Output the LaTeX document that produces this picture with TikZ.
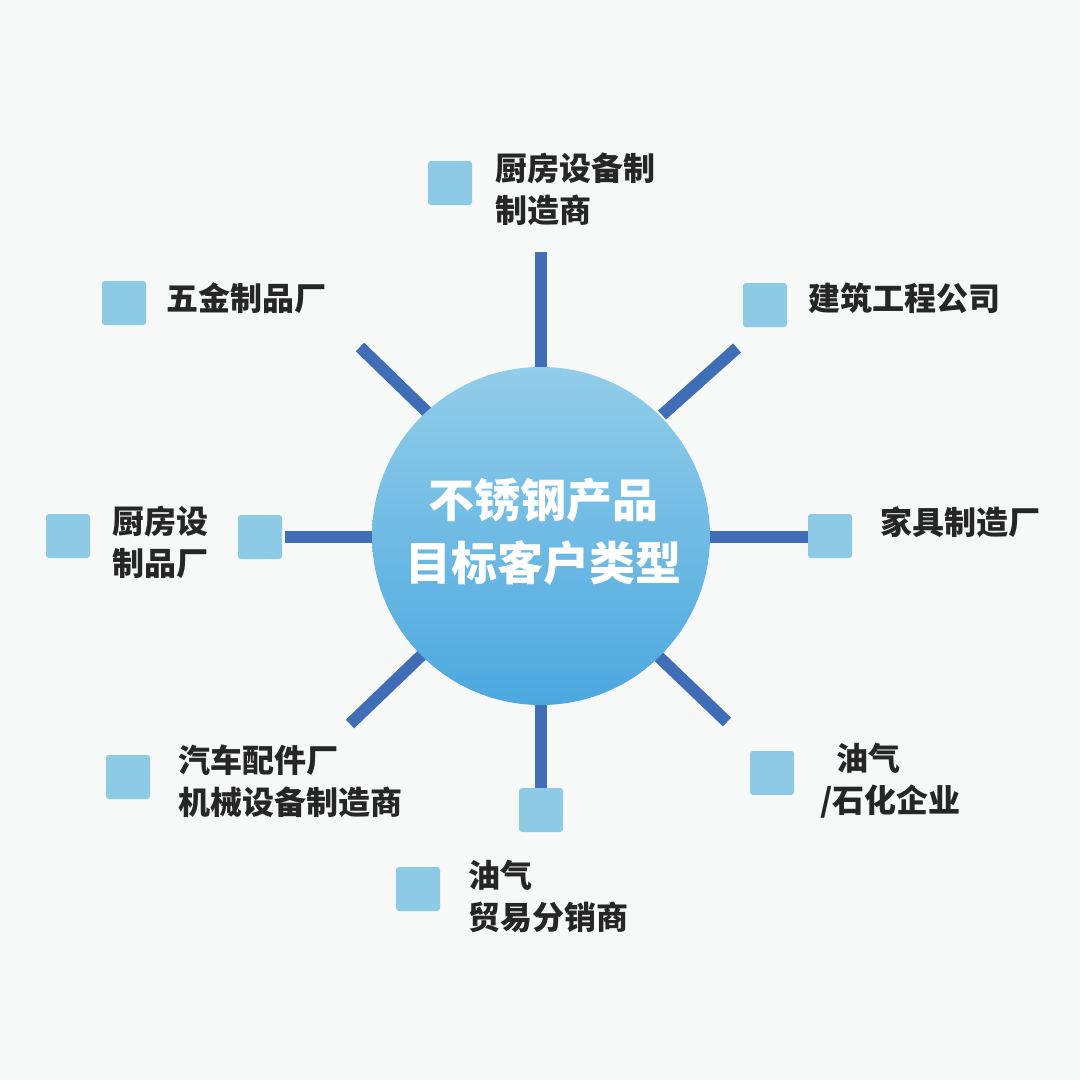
\documentclass[tikz,border=0pt]{standalone}
\usepackage{fontspec}
\setmainfont{Noto Sans CJK SC}
\begin{document}
\begin{tikzpicture}[x=1pt,y=-1pt]
\definecolor{bg}{HTML}{F7F8F8}
\definecolor{spoke}{HTML}{3F6DB6}
\definecolor{sq}{HTML}{8CCAE6}
\definecolor{ctop}{HTML}{92CDE9}
\definecolor{cbot}{HTML}{4CA8DF}
\tikzset{spokeline/.style={draw=spoke,line width=12pt},
 sqbox/.style={fill=sq,minimum size=44pt,rounded corners=3pt,inner sep=0pt},
 lbl/.style={anchor=west,font=\fontsize{32}{42}\selectfont\bfseries,text=black!85,align=left,inner sep=0pt}}
\fill[bg] (0,0) rectangle (1080,1080);
\useasboundingbox (0,0) rectangle (1080,1080);
\coordinate (t1) at (541,252); \coordinate (t2) at (541,368);
\coordinate (ur1) at (737,348); \coordinate (ur2) at (662,415);
\coordinate (r1) at (810,537); \coordinate (r2) at (708,537);
\coordinate (lr1) at (727,722); \coordinate (lr2) at (657,655);
\coordinate (b1) at (541,790); \coordinate (b2) at (541,700);
\coordinate (ll1) at (350,724); \coordinate (ll2) at (425,652);
\coordinate (l1) at (285,537); \coordinate (l2) at (374,537);
\coordinate (ul1) at (360,347); \coordinate (ul2) at (428,413);
\foreach \a in {t,ur,r,lr,b,ll,l,ul} \draw[spokeline] (\a1) -- (\a2);
\node[circle,minimum size=338pt,top color=ctop,bottom color=cbot,inner sep=0pt] (c) at (541,536) {};
\node[font=\fontsize{46}{63}\selectfont\bfseries,text=white,align=center] (ct) at (543,532) {不锈钢产品\\目标客户类型};
\node[sqbox] (s1) at (450,183) {};
\node[sqbox] (s2) at (765,305) {};
\node[sqbox] (s3) at (830,536) {};
\node[sqbox] (s4) at (772,773) {};
\node[sqbox] (s5) at (541,810) {};
\node[sqbox] (s6) at (418,889) {};
\node[sqbox] (s7) at (128,777) {};
\node[sqbox] (s8) at (68,536) {};
\node[sqbox] (s9) at (260,537) {};
\node[sqbox] (s10) at (124,303) {};
\node[lbl] (a1) at (495,189) {厨房设备制\\制造商};
\node[lbl] (a2) at (808,298) {建筑工程公司};
\node[lbl] (a3) at (880,522) {家具制造厂};
\node[lbl] (a4) at (820,781) {\hspace{16pt}油气\\/石化企业};
\node[lbl] (a5) at (468,896) {油气\\贸易分销商};
\node[lbl] (a6) at (178,781) {汽车配件厂\\机械设备制造商};
\node[lbl] (a7) at (112,542) {厨房设\\制品厂};
\node[lbl] (a8) at (166,298) {五金制品厂};
\end{tikzpicture}
\end{document}
